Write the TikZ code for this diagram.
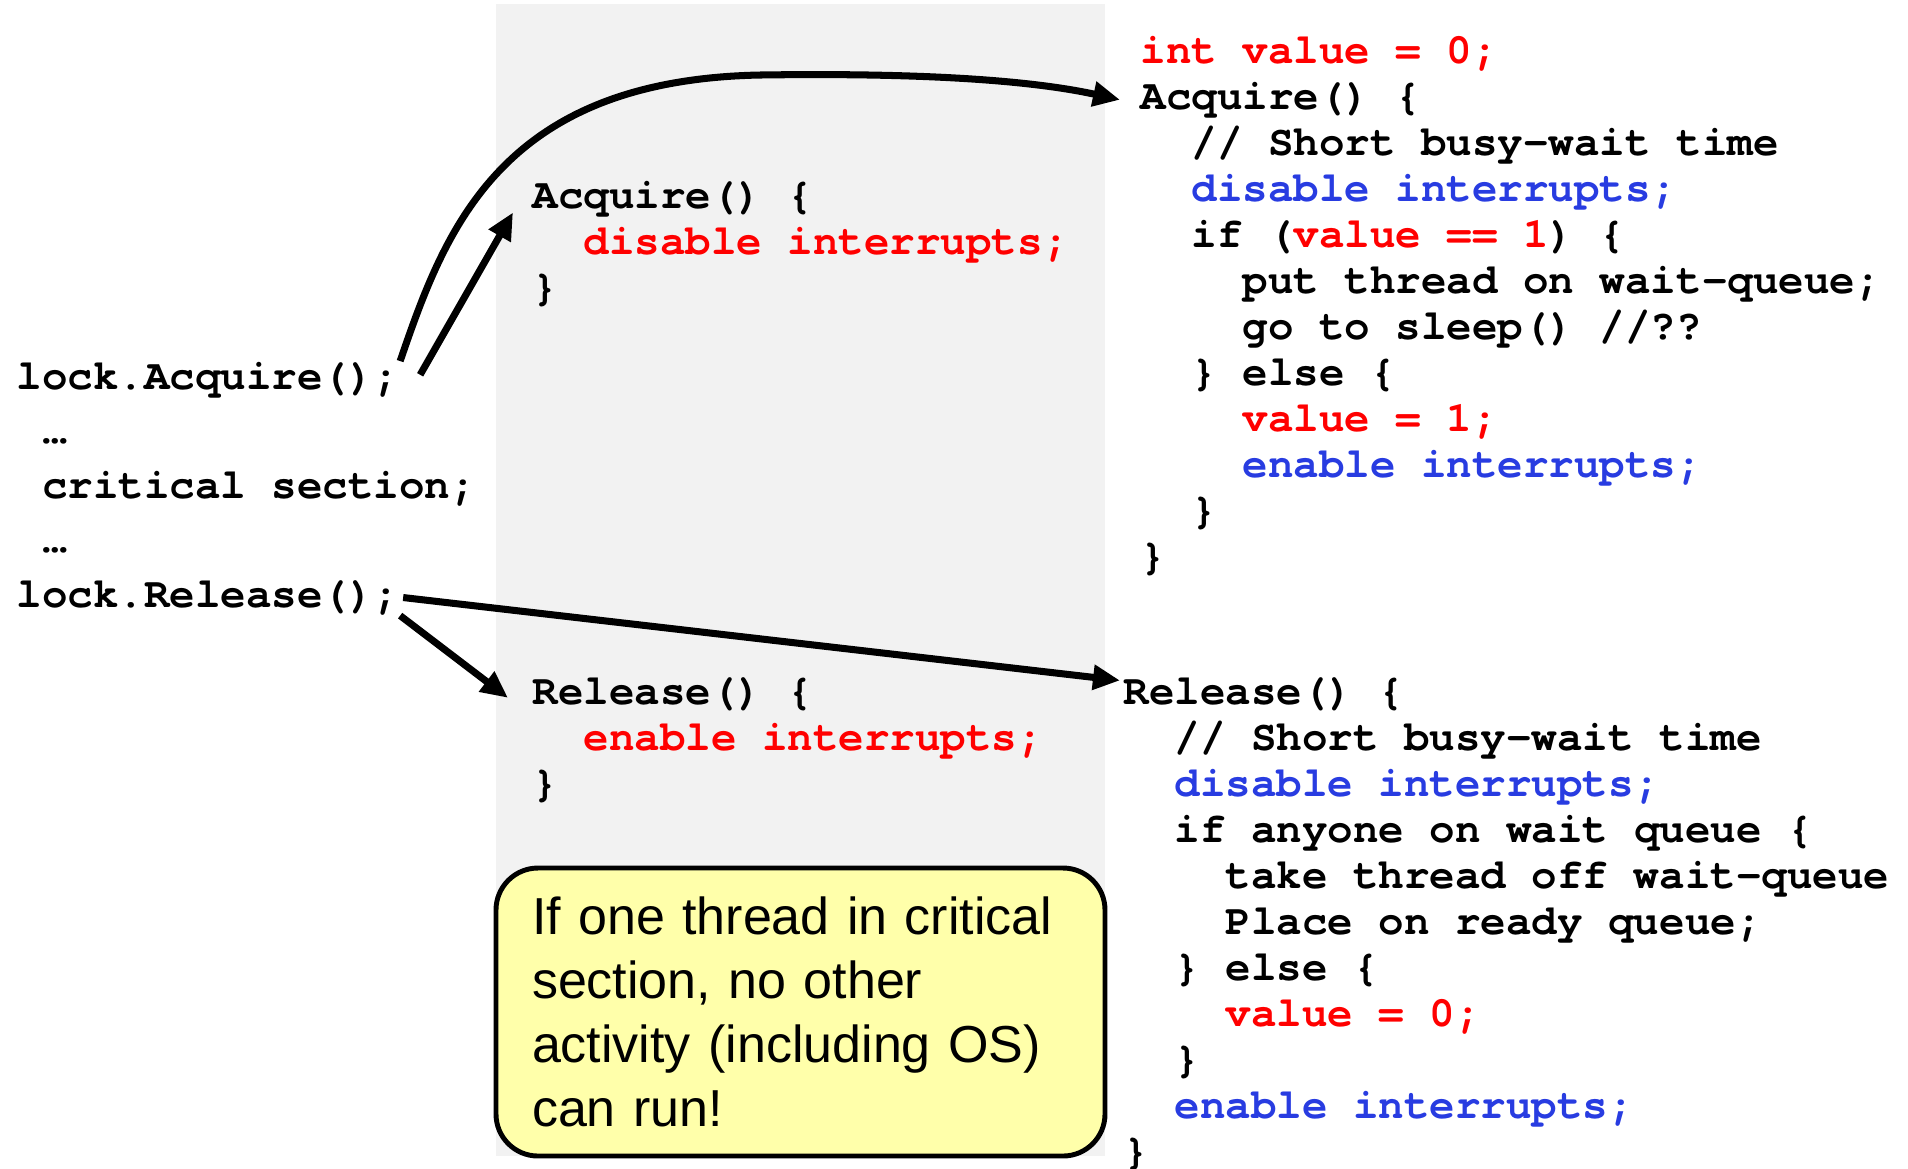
\documentclass[tikz,border=0pt]{standalone}
\usepackage{fontspec}
\usepackage{xcolor}
\usepackage{tikz}
\usetikzlibrary{arrows.meta, positioning, calc}
\newfontfamily\codefont{texgyrecursor-regular.otf}[BoldFont=texgyrecursor-bold.otf, Ligatures={NoCommon}]
\newfontfamily\notefont{Liberation Sans}
\definecolor{valred}{RGB}{255, 0, 0}
\definecolor{intblue}{RGB}{40, 60, 225}
\definecolor{kernelgray}{RGB}{242, 242, 242}
\definecolor{noteyellow}{RGB}{255, 255, 170}

\begin{document}
\begin{tikzpicture}[
    code/.style={anchor=base west, inner sep=0pt, font=\codefont\bfseries\fontsize{12.1}{14}\selectfont\frenchspacing},
    callarrow/.style={line width=2pt, -{Triangle[length=0.27cm, width=0.24cm]}},
    notebox/.style={draw, line width=1.4pt, fill=noteyellow, rounded corners=0.42cm, minimum width=6.09cm, minimum height=2.88cm, text width=5.37cm, align=left, font=\notefont\fontsize{14.8}{18.2}\selectfont}
]
    \useasboundingbox (0, 0) rectangle (19.08, -11.68);

    % Kernel side (shaded)
    \fill[kernelgray] (4.96, -0.04) rectangle (11.05, -11.56);

    % User program
    \foreach \ind/\txt [count=\i] in {0/{lock.Acquire();}, 1/{…}, 1/{critical section;}, 1/{…}, 0/{lock.Release();}}
        \node[code] (user-\i) at ({0.16+0.255*\ind}, {-3.89-0.545*(\i-1)}) {\txt};

    % Simple version: interrupts only
    \foreach \ind/\txt [count=\i] in {0/{Acquire() \{}, 2/{\textcolor{valred}{disable interrupts;}}, 0/{\}}}
        \node[code] (ma-\i) at ({5.32+0.255*\ind}, {-2.08-0.46*(\i-1)}) {\txt};
    \foreach \ind/\txt [count=\i] in {0/{Release() \{}, 2/{\textcolor{valred}{enable interrupts;}}, 0/{\}}}
        \node[code] (mr-\i) at ({5.32+0.255*\ind}, {-7.04-0.46*(\i-1)}) {\txt};

    % Better version: Acquire
    \foreach \ind/\txt [count=\i] in {
        0/{\textcolor{valred}{int value = 0;}},
        0/{Acquire() \{},
        2/{// Short busy-wait time},
        2/{\textcolor{intblue}{disable interrupts;}},
        2/{if (\textcolor{valred}{value == 1}) \{},
        4/{put thread on wait-queue;},
        4/{go to sleep() //??},
        2/{\} else \{},
        4/{\textcolor{valred}{value = 1;}},
        4/{\textcolor{intblue}{enable interrupts;}},
        2/{\}},
        0/{\}}}
        \node[code] (ra-\i) at ({11.40+0.255*\ind}, {-0.63-0.46*(\i-1)}) {\txt};

    % Better version: Release
    \foreach \ind/\txt [count=\i] in {
        0/{Release() \{},
        2/{// Short busy-wait time},
        2/{\textcolor{intblue}{disable interrupts;}},
        2/{if anyone on wait queue \{},
        4/{take thread off wait-queue},
        4/{Place on ready queue;},
        2/{\} else \{},
        4/{\textcolor{valred}{value = 0;}},
        2/{\}},
        2/{\textcolor{intblue}{enable interrupts;}},
        0/{\}}}
        \node[code] (rb-\i) at ({11.23+0.255*\ind}, {-7.04-0.46*(\i-1)}) {\txt};

    % Note
    \node[notebox] (note) at (8.005, -10.12) {If one thread in critical\\section, no other\\activity (including OS)\\can run!};

    % Calls
    \draw[callarrow] (user-1.north east) .. controls (4.45, -2.3) and (5.0, -0.8) .. (7.6, -0.75)
        .. controls (9.0, -0.73) and (10.2, -0.78) .. ($(ra-2.west)+(-0.2, 0)$);
    \draw[callarrow] ($(user-1.east)+(0.2, 0.05)$) -- ($(ma-1.south west)+(-0.19, 0.05)$);
    \draw[callarrow] ($(user-5.east)+(0.03, 0)$) -- ($(rb-1.north west)+(-0.03, -0.04)$);
    \draw[callarrow] (user-5.south east) -- ($(mr-1.west)+(-0.24, -0.04)$);

\end{tikzpicture}
\end{document}
